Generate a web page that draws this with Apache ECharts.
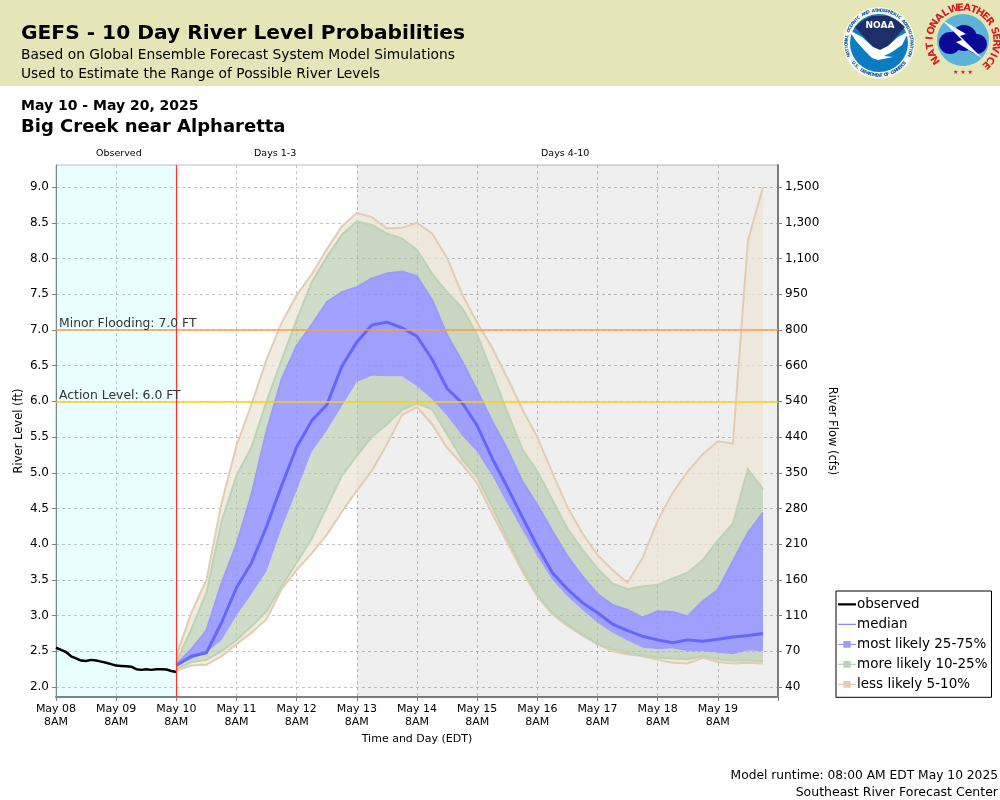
<!DOCTYPE html>
<html>
<head>
<meta charset="utf-8">
<title>GEFS River Level Probabilities</title>
<script src="https://cdn.jsdelivr.net/npm/echarts@6/dist/echarts.min.js"></script>
<style>
html,body{margin:0;padding:0;background:#fff}
#chart{width:1000px;height:800px}
</style>
</head>
<body>
<div id="chart"></div>
<script>
// hours after May 08 8AM
var obsHours = [0,2,4,6,8,10,12,14,16,18,20,22,24,26,28,30,32,34,36,38,40,42,44,46,48];
var observed = [2.55,2.52,2.49,2.43,2.40,2.37,2.365,2.38,2.37,2.355,2.34,2.32,2.30,2.295,2.29,2.285,2.25,2.24,2.25,2.24,2.25,2.25,2.245,2.225,2.21];

var fcstHours = [48,54,60,66,72,78,84,90,96,102,108,114,120,126,132,138,144,150,156,162,168,174,180,186,192,198,204,210,216,222,228,234,240,246,252,258,264,270,276,282];
var p95 = [2.44,3.04,3.5,4.57,5.38,5.96,6.59,7.1,7.49,7.78,8.13,8.45,8.64,8.58,8.42,8.43,8.5,8.35,8.01,7.5,7.1,6.75,6.33,5.89,5.5,5.0,4.52,4.15,3.85,3.64,3.46,3.81,4.33,4.72,5.02,5.26,5.44,5.41,8.25,9.0];
var p90 = [2.35,2.81,3.32,4.31,4.96,5.36,6.0,6.58,7.14,7.67,8.02,8.33,8.52,8.47,8.35,8.28,8.12,7.79,7.53,7.31,6.93,6.4,5.85,5.33,5.02,4.62,4.22,3.92,3.66,3.45,3.37,3.41,3.43,3.52,3.6,3.78,4.05,4.29,5.05,4.77];
var p75 = [2.32,2.53,2.79,3.45,4.0,4.7,5.59,6.31,6.78,7.07,7.39,7.53,7.6,7.72,7.79,7.82,7.75,7.42,6.93,6.56,6.15,5.72,5.33,4.88,4.55,4.18,3.83,3.55,3.3,3.15,3.08,2.97,3.06,3.05,2.99,3.2,3.36,3.76,4.16,4.44];
var median = [2.3,2.43,2.48,2.9,3.39,3.74,4.25,4.82,5.36,5.73,5.95,6.49,6.83,7.07,7.11,7.03,6.91,6.59,6.18,5.98,5.66,5.2,4.8,4.38,3.97,3.6,3.37,3.18,3.04,2.88,2.79,2.71,2.66,2.62,2.66,2.64,2.67,2.7,2.72,2.75];
var p25 = [2.3,2.39,2.48,2.65,3.0,3.3,3.62,4.22,4.75,5.29,5.59,5.93,6.27,6.36,6.35,6.35,6.21,6.03,5.8,5.52,5.29,4.96,4.57,4.2,3.83,3.5,3.27,3.08,2.9,2.76,2.65,2.55,2.53,2.54,2.5,2.5,2.48,2.46,2.51,2.5];
var p10 = [2.25,2.35,2.38,2.5,2.66,2.85,3.06,3.41,3.74,4.08,4.52,4.96,5.24,5.5,5.68,5.88,5.97,5.89,5.54,5.19,4.94,4.52,4.08,3.67,3.3,3.04,2.88,2.74,2.6,2.53,2.48,2.44,2.41,2.4,2.39,2.43,2.39,2.37,2.37,2.36];
var p5 = [2.23,2.3,2.31,2.43,2.6,2.76,2.95,3.37,3.64,3.87,4.13,4.45,4.75,5.03,5.4,5.81,5.92,5.68,5.35,5.12,4.85,4.43,4.02,3.62,3.27,3.02,2.86,2.72,2.6,2.5,2.46,2.43,2.38,2.34,2.33,2.41,2.35,2.33,2.34,2.33];

var levelTicks = [2,2.5,3,3.5,4,4.5,5,5.5,6,6.5,7,7.5,8,8.5,9];
var flowTicks = ['40','70','110','160','210','280','350','440','540','660','800','950','1,100','1,300','1,500'];
var dayTicks = ['May 08','May 09','May 10','May 11','May 12','May 13','May 14','May 15','May 16','May 17','May 18','May 19',''];

var FONT = 'DejaVu Sans';
var chart = echarts.init(document.getElementById('chart'));

function pts(api, ys) {
    return ys.map(function (y, i) { return api.coord([fcstHours[i], y]); });
}
// a band is one or two filled strips, only the outer edge gets a stroke
function band(name, fill, stroke, strips) {
    return {
        name: name, type: 'custom', z: 2, silent: true,
        itemStyle: {color: stroke},
        data: [[48, 2]],
        renderItem: function (params, api) {
            var kids = [];
            strips.forEach(function (s) {
                var a = pts(api, s[0]), b = pts(api, s[1]);
                kids.push({type: 'polygon', shape: {points: a.concat(b.slice().reverse())}, style: {fill: fill, stroke: null}});
                kids.push({type: 'polyline', shape: {points: a}, style: {fill: null, stroke: stroke, lineWidth: 2}});
            });
            return {type: 'group', children: kids};
        }
    };
}
function hline(v, color, text) {
    return {
        yAxis: v,
        lineStyle: {color: color, width: 1.5, type: 'solid'},
        label: {show: true, position: 'insideStartTop', formatter: text, color: '#333', fontFamily: FONT, fontSize: 12.4, distance: [3, 0]}
    };
}
function label(text, x, y, size, weight, align) {
    return {
        text: text, left: align === 'right' ? undefined : x, right: align === 'right' ? 1000 - x : undefined, top: y, padding: 0,
        textStyle: {fontFamily: FONT, fontSize: size, fontWeight: weight || 'normal', color: '#000'}
    };
}
// letters around a logo ring, flip makes them read upright along the bottom
function ringText(text, cx, cy, r, a0, a1, size, color, out, flip) {
    for (var i = 0; i < text.length; i++) {
        var a = (a0 + (a1 - a0) * i / (text.length - 1)) * Math.PI / 180;
        out.push({
            type: 'text', x: cx + r * Math.sin(a), y: cy - r * Math.cos(a), rotation: -a + (flip ? Math.PI : 0), z: 12,
            style: {text: text[i], fill: color, font: 'bold ' + size + 'px ' + FONT, align: 'center', verticalAlign: 'middle'}
        });
    }
}

var logo = [
    {type: 'rect', z: -5, shape: {x: 0, y: 0, width: 1000, height: 86}, style: {fill: '#e5e5b8'}},
    // NOAA
    {type: 'circle', z: 10, shape: {cx: 879, cy: 43, r: 36}, style: {fill: '#f4f6ee'}},
    {type: 'circle', z: 11, shape: {cx: 879, cy: 43, r: 29}, style: {fill: '#0a7cc1'}},
    {type: 'polygon', z: 11, shape: {points: [[855,27],[862,21],[872,16],[888,16],[898,21],[905,27],[888,46],[880,50],[873,47]]}, style: {fill: '#1c2f6b'}},
    {type: 'polygon', z: 11, shape: {points: [[849,30],[862,37],[873,47],[880,50],[888,46],[898,37],[909,31],[902,45],[892,52],[884,56],[893,57],[878,60],[872,58],[864,50],[856,41]]}, style: {fill: '#fff'}},
    {type: 'text', z: 12, x: 880, y: 26, style: {text: 'NOAA', fill: '#fff', font: 'bold 9px ' + FONT, align: 'center', verticalAlign: 'middle'}},
    // NWS
    {type: 'circle', z: 11, shape: {cx: 963, cy: 40, r: 26}, style: {fill: '#5bb4d8'}},
    {type: 'circle', z: 11, shape: {cx: 950, cy: 43, r: 11}, style: {fill: '#0a0a96'}},
    {type: 'circle', z: 11, shape: {cx: 964, cy: 38, r: 13}, style: {fill: '#0a0a96'}},
    {type: 'circle', z: 11, shape: {cx: 977, cy: 44, r: 10}, style: {fill: '#0a0a96'}},
    {type: 'polygon', z: 12, shape: {points: [[942,20],[966,34],[960,36],[982,58],[956,42],[962,40]]}, style: {fill: '#fff'}},
    {type: 'text', z: 12, x: 963, y: 72, style: {text: '★ ★ ★', fill: '#d42020', font: '6px ' + FONT, align: 'center', verticalAlign: 'middle'}}
];
ringText('NATIONAL', 963, 41, 33, -125, -32, 10, '#d42020', logo);
ringText('WEATHER', 963, 41, 33, -16, 54, 10, '#d42020', logo);
ringText('SERVICE', 963, 41, 33, 72, 136, 10, '#d42020', logo);
ringText('NATIONAL OCEANIC AND ATMOSPHERIC ADMINISTRATION', 879, 43, 32.5, -112, 112, 4.4, '#1c5a9c', logo);
ringText('U.S. DEPARTMENT OF COMMERCE', 879, 43, 32.5, 232, 128, 4.4, '#1c5a9c', logo, true);

var option = {
    animation: false,
    backgroundColor: '#fff',
    textStyle: {fontFamily: FONT},
    graphic: logo,
    title: [
        label('GEFS - 10 Day River Level Probabilities', 21, 24, 20.2, 'bold'),
        label('Based on Global Ensemble Forecast System Model Simulations', 21, 48, 13.8),
        label('Used to Estimate the Range of Possible River Levels', 21, 67, 13.8),
        label('May 10 - May 20, 2025', 21, 99, 14, 'bold'),
        label('Big Creek near Alpharetta', 21, 118, 18, 'bold'),
        label('Observed', 96, 149, 9.5),
        label('Days 1-3', 254, 149, 9.5),
        label('Days 4-10', 541, 149, 9.5),
        label('Model runtime: 08:00 AM EDT May 10 2025', 998, 770, 12.25, 'normal', 'right'),
        label('Southeast River Forecast Center', 998, 786, 12.5, 'normal', 'right')
    ],
    grid: {left: 56, right: 222, top: 165, bottom: 103, outerBoundsMode: 'none', show: true, borderColor: '#bbb', borderWidth: 1, backgroundColor: 'transparent'},
    legend: {
        orient: 'vertical', left: 836, top: 591, padding: [6, 4, 5, 2], itemGap: 4.7, itemWidth: 18, itemHeight: 17,
        borderColor: '#000', borderWidth: 1, backgroundColor: '#fff', selectedMode: false, z: 20,
        textStyle: {fontFamily: FONT, fontSize: 13.5, color: '#000', padding: [0, 0, 0, -4]},
        data: [
            {name: 'observed', icon: 'path://M0 0L0 0ZM0 7H20V9.4H0ZM20 17L20 17Z'},
            {name: 'median', icon: 'path://M0 0L0 0ZM0 7.4H20V9H0ZM20 17L20 17Z'},
            {name: 'most likely 25-75%', icon: 'path://M0 0L0 0ZM0 7.4H20V9H0ZM6 4.5H14V12H6ZM20 17L20 17Z'},
            {name: 'more likely 10-25%', icon: 'path://M0 0L0 0ZM0 7.4H20V9H0ZM6 4.5H14V12H6ZM20 17L20 17Z'},
            {name: 'less likely 5-10%', icon: 'path://M0 0L0 0ZM0 7.4H20V9H0ZM6 4.5H14V12H6ZM20 17L20 17Z'}
        ]
    },
    xAxis: {
        type: 'value', min: 0, max: 288, interval: 24,
        name: 'Time and Day (EDT)', nameLocation: 'middle', nameGap: 37, nameMoveOverlap: false,
        nameTextStyle: {fontFamily: FONT, fontSize: 11, color: '#000'},
        axisLine: {onZero: false, lineStyle: {color: '#808080', width: 2}},
        axisTick: {length: 4, lineStyle: {color: '#808080'}},
        axisLabel: {
            color: '#000', fontSize: 11, fontFamily: FONT, lineHeight: 13, margin: 6, hideOverlap: false,
            formatter: function (v) {
                var d = dayTicks[v / 24];
                return d ? d + '\n8AM' : '';
            }
        },
        splitLine: {show: true, lineStyle: {color: '#c4c4c4', type: [3, 3]}}
    },
    yAxis: [{
        type: 'value', min: 1.86, max: 9.31, position: 'left',
        name: 'River Level (ft)', nameLocation: 'middle', nameGap: 31, nameRotate: 90, nameMoveOverlap: false,
        nameTextStyle: {fontFamily: FONT, fontSize: 11.5, color: '#000'},
        axisLine: {show: true, onZero: false, lineStyle: {color: '#808080', width: 1}},
        axisTick: {show: true, length: 4, customValues: levelTicks, lineStyle: {color: '#808080'}},
        axisLabel: {color: '#000', fontSize: 12, fontFamily: FONT, margin: 7, customValues: levelTicks, formatter: function (v) { return v.toFixed(1); }},
        splitLine: {show: true, lineStyle: {color: '#c4c4c4', type: [3, 3]}}
    }, {
        type: 'value', min: 1.86, max: 9.31, position: 'right',
        name: 'River Flow (cfs)', nameLocation: 'middle', nameGap: 48, nameRotate: -90, nameMoveOverlap: false,
        nameTextStyle: {fontFamily: FONT, fontSize: 11.5, color: '#000'},
        axisLine: {show: true, onZero: false, lineStyle: {color: '#808080', width: 2}},
        axisTick: {show: true, length: 4, customValues: levelTicks, lineStyle: {color: '#808080'}},
        axisLabel: {
            color: '#000', fontSize: 12, fontFamily: FONT, margin: 7, customValues: levelTicks,
            formatter: function (v) { return flowTicks[levelTicks.indexOf(v)]; }
        },
        splitLine: {show: false}
    }],
    series: [
        {
            name: 'periods', type: 'line', data: [], z: 1, silent: true,
            markArea: {
                silent: true,
                data: [
                    [{xAxis: 0, itemStyle: {color: 'rgba(0,255,255,0.085)'}}, {xAxis: 48}],
                    [{xAxis: 120, itemStyle: {color: 'rgba(0,0,0,0.063)'}}, {xAxis: 288}]
                ]
            }
        },
        band('less likely 5-10%', 'rgba(238,228,214,0.75)', '#e3ccb2', [[p95, p90], [p5, p10]]),
        band('more likely 10-25%', 'rgba(175,197,163,0.6)', '#bcd3b4', [[p90, p75], [p10, p25]]),
        band('most likely 25-75%', 'rgba(144,144,255,0.85)', '#9a9aff', [[p75, p25]]),
        {
            name: 'median', type: 'line', z: 3, symbol: 'none', silent: true, color: '#8a8aff',
            lineStyle: {color: '#6666ff', width: 3},
            data: fcstHours.map(function (h, i) { return [h, median[i]]; })
        },
        {
            name: 'observed', type: 'line', z: 3, symbol: 'none', silent: true, color: '#000',
            lineStyle: {color: '#000', width: 2.5},
            data: obsHours.map(function (h, i) { return [h, observed[i]]; })
        },
        {
            name: 'limits', type: 'line', data: [], z: 4, silent: true,
            markLine: {
                silent: true, symbol: 'none', animation: false,
                data: [
                    hline(7, '#ff9e40', 'Minor Flooding: 7.0 FT'),
                    hline(6, '#ffcc14', 'Action Level: 6.0 FT'),
                    {xAxis: 48, lineStyle: {color: '#ff3333', width: 1.2, type: 'solid'}, label: {show: false}}
                ]
            }
        }
    ]
};
chart.setOption(option);
</script>
</body>
</html>
